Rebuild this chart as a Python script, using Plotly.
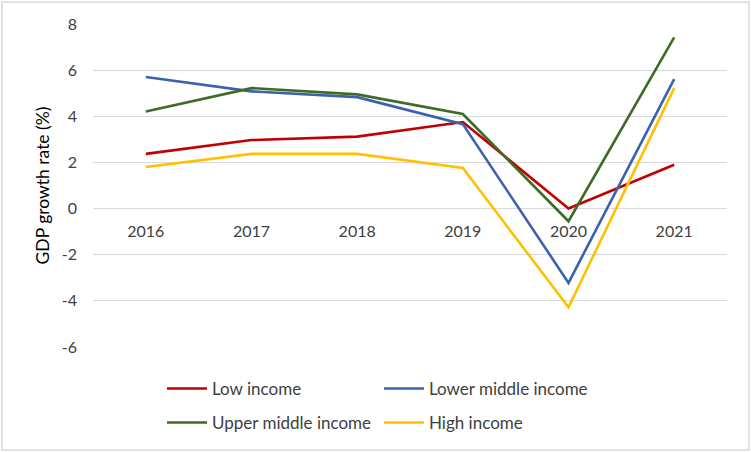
import plotly.graph_objects as go

years = ["2016", "2017", "2018", "2019", "2020", "2021"]
low_income = [2.37, 2.97, 3.12, 3.75, 0.0, 1.90]
lower_middle = [5.70, 5.08, 4.83, 3.66, -3.22, 5.61]
upper_middle = [4.21, 5.22, 4.95, 4.10, -0.55, 7.42]
high_income = [1.80, 2.37, 2.37, 1.76, -4.28, 5.22]
y_ticks = [-6, -4, -2, 0, 2, 4, 6, 8]
y_tick_text = [str(v) for v in y_ticks]

W, H = 751, 452
L, R, T, B = 93, 24, 24, 105
FONT = "Lato"

fig = go.Figure()
series = [
    ("Low income", low_income, "#C00000", "legend"),
    ("Lower middle income", lower_middle, "#3C62AE", "legend"),
    ("Upper middle income", upper_middle, "#3F6B26", "legend2"),
    ("High income", high_income, "#FFC000", "legend2"),
]
for name, vals, col, lg in series:
    fig.add_trace(go.Scatter(x=years, y=vals, name=name, mode="lines",
                             line=dict(color=col, width=2.6), legend=lg))

pw = W - L - R
ph = H - T - B
leg_common = dict(orientation="h", xanchor="left", yanchor="top",
                  entrywidth=162, entrywidthmode="pixels", itemwidth=40,
                  font=dict(size=17, color="#404040"),
                  bgcolor="rgba(0,0,0,0)")
fig.update_layout(
    width=W, height=H,
    margin=dict(l=L, r=R, t=T, b=B, autoexpand=False),
    paper_bgcolor="white", plot_bgcolor="white",
    font=dict(family=FONT, size=16, color="#404040"),
    xaxis=dict(type="category", range=[-0.5, 5.5], showgrid=False,
               showline=False, zeroline=False, ticks="",
               anchor="free", position=6 / 14, automargin=False,
               ticklabelstandoff=11,
               tickfont=dict(size=16, color="#404040")),
    yaxis=dict(range=[-6, 8], tickvals=y_ticks, ticktext=y_tick_text,
               showgrid=True, automargin=False,
               gridcolor="#D9D9D9", gridwidth=1.3, zeroline=False,
               showline=False, ticks="", ticklabelstandoff=15,
               tickfont=dict(size=16, color="#404040"),
               title=dict(text="GDP growth rate (%)", standoff=7,
                          font=dict(size=17.5, color="#000000"))),
    legend=dict(x=(162 - L) / pw, y=(H - B - 371) / ph, **leg_common),
    legend2=dict(x=(162 - L) / pw, y=(H - B - 405) / ph, **leg_common),
    showlegend=True,
)

# outer chart border
fig.add_shape(type="rect", xref="paper", yref="paper",
              x0=(2 - L) / pw, x1=(W - 2 - L) / pw,
              y0=(H - B - (H - 2)) / ph, y1=(H - B - 2) / ph,
              line=dict(color="#D9D9D9", width=1.5), fillcolor="rgba(0,0,0,0)",
              layer="below")

fig.write_html("out.html",
               config={"displayModeBar": False},
               post_script="document.body.style.margin='0';"
                           "document.body.style.overflow='hidden';")
